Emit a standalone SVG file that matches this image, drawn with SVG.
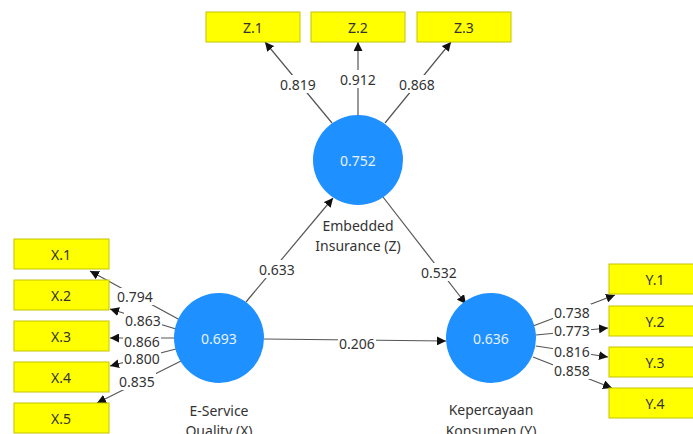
<svg xmlns="http://www.w3.org/2000/svg" width="693" height="434" viewBox="0 0 693 434">
  <style>
    .ind rect { fill: #ffff00; stroke: #c4c400; stroke-width: 1; }
    .ind text { font-family: "Noto Sans", "Open Sans", sans-serif; font-size: 14px; fill: #333; text-anchor: middle; dominant-baseline: central; }
    .lv circle { fill: #1e90ff; }
    .lv .val { font-family: "Noto Sans", "Open Sans", sans-serif; font-size: 14px; fill: #e8f2ff; text-anchor: middle; dominant-baseline: central; }
    .lv .name { font-family: "Noto Sans", "Open Sans", sans-serif; font-size: 14px; fill: #333; text-anchor: middle; dominant-baseline: central; }
    .edges line { stroke: #555; stroke-width: 1.2; marker-end: url(#arr); }
    .lbl rect { fill: #fff; }
    .lbl text { font-family: "Noto Sans", "Open Sans", sans-serif; font-size: 14px; fill: #333; text-anchor: middle; dominant-baseline: central; }
  </style>
  <defs>
    <marker id="arr" viewBox="0 0 10 10" refX="10" refY="5" markerWidth="9" markerHeight="9" markerUnits="userSpaceOnUse" orient="auto">
      <path d="M0,0 L10,5 L0,10 z" fill="#111"/>
    </marker>
  </defs>
  <rect width="693" height="434" fill="#fff"/>

  <!-- connectors -->
  <g id="connectors" class="edges">
    <line x1="332" y1="123" x2="265" y2="42"/>
    <line x1="358" y1="115" x2="358" y2="42"/>
    <line x1="385" y1="123" x2="451" y2="42"/>
    <line x1="180" y1="320" x2="90" y2="271"/>
    <line x1="176" y1="329" x2="110" y2="309"/>
    <line x1="174" y1="338" x2="110" y2="338"/>
    <line x1="176" y1="349" x2="110" y2="366"/>
    <line x1="181" y1="361" x2="97" y2="403"/>
    <line x1="533" y1="326" x2="615" y2="295"/>
    <line x1="536" y1="335" x2="608" y2="328"/>
    <line x1="536" y1="346" x2="608" y2="357"/>
    <line x1="533" y1="357" x2="612" y2="388"/>
    <line x1="246" y1="302" x2="333" y2="198"/>
    <line x1="383" y1="197" x2="466" y2="304"/>
    <line x1="264" y1="339" x2="446" y2="341"/>
  </g>

  <!-- path and loading labels -->
  <g id="labels" class="lbl">
    <rect x="279" y="75" width="38" height="18"/><text x="298" y="84">0.819</text>
    <rect x="339" y="70" width="38" height="18"/><text x="358" y="79">0.912</text>
    <rect x="398" y="75" width="38" height="18"/><text x="417" y="84">0.868</text>
    <rect x="116" y="288" width="38" height="17"/><text x="135" y="296">0.794</text>
    <rect x="124" y="312" width="38" height="16"/><text x="143" y="320">0.863</text>
    <rect x="123" y="333" width="38" height="16"/><text x="142" y="341">0.866</text>
    <rect x="123" y="350" width="38" height="16"/><text x="142" y="358">0.800</text>
    <rect x="118" y="373" width="38" height="17"/><text x="137" y="381">0.835</text>
    <rect x="553" y="304" width="38" height="17"/><text x="572" y="312">0.738</text>
    <rect x="553" y="322" width="38" height="16"/><text x="572" y="330">0.773</text>
    <rect x="553" y="343" width="38" height="16"/><text x="572" y="351">0.816</text>
    <rect x="553" y="362" width="38" height="17"/><text x="572" y="370">0.858</text>
    <rect x="258" y="260" width="38" height="18"/><text x="277" y="269">0.633</text>
    <rect x="420" y="263" width="38" height="18"/><text x="439" y="272">0.532</text>
    <rect x="338" y="334" width="38" height="18"/><text x="357" y="343">0.206</text>
  </g>

  <!-- latent variables -->
  <g id="Z" class="lv">
    <circle cx="358" cy="160" r="45"/>
    <text class="val" x="358" y="160">0.752</text>
    <text class="name" x="358" y="225">Embedded</text>
    <text class="name" x="358" y="245">Insurance (Z)</text>
  </g>
  <g id="X" class="lv">
    <circle cx="219" cy="338" r="45"/>
    <text class="val" x="219" y="338">0.693</text>
    <text class="name" x="219" y="410">E-Service</text>
    <text class="name" x="219" y="430">Quality (X)</text>
  </g>
  <g id="Y" class="lv">
    <circle cx="491" cy="338" r="45"/>
    <text class="val" x="491" y="338">0.636</text>
    <text class="name" x="491" y="409">Kepercayaan</text>
    <text class="name" x="491" y="430">Konsumen (Y)</text>
  </g>

  <!-- indicators -->
  <g id="Z1" class="ind"><rect x="206" y="12" width="94" height="30"/><text x="253" y="27">Z.1</text></g>
  <g id="Z2" class="ind"><rect x="311" y="12" width="94" height="30"/><text x="358" y="27">Z.2</text></g>
  <g id="Z3" class="ind"><rect x="417" y="12" width="94" height="30"/><text x="464" y="27">Z.3</text></g>
  <g id="X1" class="ind"><rect x="14" y="239" width="95" height="30"/><text x="61" y="254">X.1</text></g>
  <g id="X2" class="ind"><rect x="14" y="280" width="95" height="30"/><text x="61" y="295">X.2</text></g>
  <g id="X3" class="ind"><rect x="14" y="321" width="95" height="30"/><text x="61" y="336">X.3</text></g>
  <g id="X4" class="ind"><rect x="14" y="362" width="95" height="30"/><text x="61" y="377">X.4</text></g>
  <g id="X5" class="ind"><rect x="14" y="403" width="95" height="30"/><text x="61" y="418">X.5</text></g>
  <g id="Y1" class="ind"><rect x="609" y="264" width="93" height="30"/><text x="655" y="279">Y.1</text></g>
  <g id="Y2" class="ind"><rect x="609" y="306" width="93" height="30"/><text x="655" y="321">Y.2</text></g>
  <g id="Y3" class="ind"><rect x="609" y="347" width="93" height="30"/><text x="655" y="362">Y.3</text></g>
  <g id="Y4" class="ind"><rect x="609" y="388" width="93" height="30"/><text x="655" y="403">Y.4</text></g>
</svg>
